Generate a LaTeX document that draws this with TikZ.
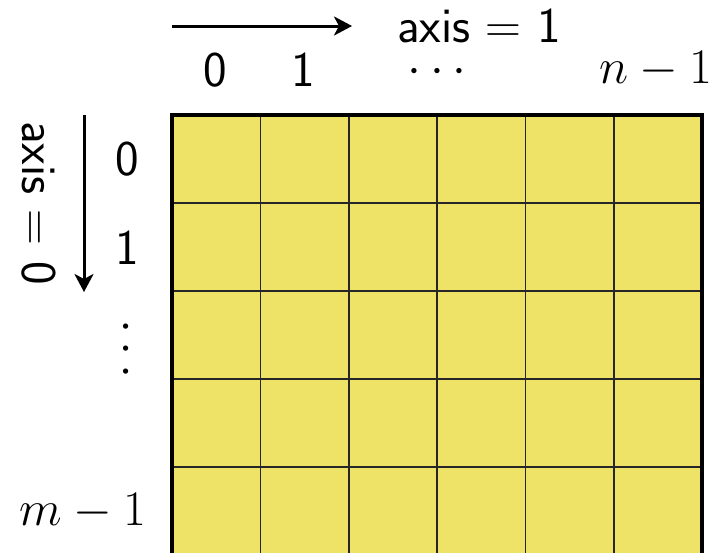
\documentclass[tikz,border=0pt]{standalone}
\usetikzlibrary{arrows.meta}
\definecolor{cellyellow}{RGB}{238,227,102}
\begin{document}
\begin{tikzpicture}[x=0.5pt,y=-0.5pt,
  lbl/.style={font=\fontsize{23.3}{28}\selectfont, inner sep=0pt},
  slbl/.style={font=\fontsize{25}{30}\selectfont\sffamily, inner sep=0pt},
  axisarrow/.style={line width=1.5pt, -{Stealth[length=9pt,width=9.5pt,inset=2.5pt]}},
  gridline/.style={line width=0.8pt, draw=black!85},
  border/.style={line width=1.6pt, draw=black}]
\useasboundingbox (0,0) rectangle (717,553);
% grid
\fill[cellyellow] (172,115) rectangle (702,553);
\foreach \x in {260.3,348.7,437,525.3,613.7}
  \draw[gridline] (\x,115) -- (\x,553);
\foreach \y in {203,291,379,467}
  \draw[gridline] (172,\y) -- (702,\y);
\draw[border] (172,553) -- (172,115) -- (702,115) -- (702,553);
% top axis
\coordinate (ta) at (172,26);
\coordinate (tb) at (352,26);
\draw[axisarrow] (ta) -- (tb);
\node[slbl, anchor=base] (ax1) at (479,42) {axis $=$ 1};
\node[slbl, anchor=base] (c0) at (215,86) {0};
\node[slbl, anchor=base] (c1) at (303,86) {1};
\node[lbl, anchor=base] (cd) at (437,83) {$\smash{\cdots}$};
\node[lbl, anchor=base] (cn) at (656,83) {$n-1$};
% left axis
\coordinate (la) at (84,115);
\coordinate (lb) at (84,292);
\draw[axisarrow] (la) -- (lb);
\node[slbl, anchor=base, rotate=-90] (ax0) at (23,203) {axis $=$ 0};
\node[slbl, anchor=center] (r0) at (127,159) {0};
\node[slbl, anchor=center] (r1) at (127,248) {1};
\node[lbl, anchor=center, rotate=90] (rd) at (127,349) {$\cdots$};
\node[lbl, anchor=base] (rm) at (83,525) {$m-1$};
\end{tikzpicture}
\end{document}
